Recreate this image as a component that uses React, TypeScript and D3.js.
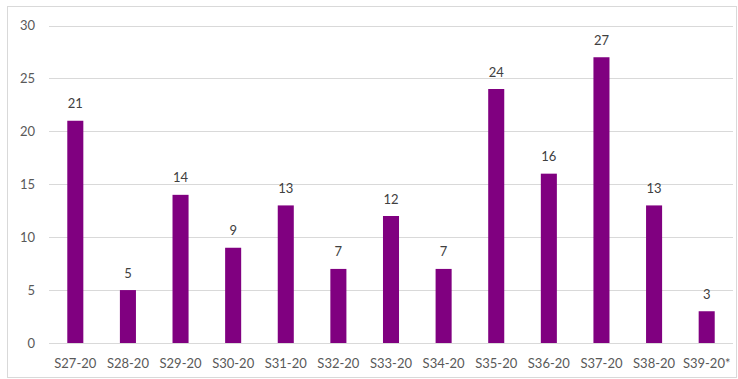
import React from "react";
import * as d3 from "d3";

const categories = ["S27-20","S28-20","S29-20","S30-20","S31-20","S32-20","S33-20","S34-20","S35-20","S36-20","S37-20","S38-20","S39-20*"];
const values = [21,5,14,9,13,7,12,7,24,16,27,13,3];
const yTicks = [0,5,10,15,20,25,30];

export default function App() {
  const W = 738, H = 379;
  const x = d3.scaleBand<string>().domain(categories).range([49, 733]).paddingInner(0.695).paddingOuter(0.3475);
  const y = d3.scaleLinear().domain([0, 30]).range([343, 25.5]);
  const font = "Lato, 'Open Sans', sans-serif";
  return (
    <svg width={W} height={H} style={{ position: "absolute", left: 0, top: 0 }}>
      <rect x={0} y={0} width={W} height={H} fill="#fff" />
      <rect x={7.5} y={6.5} width={729} height={371} fill="none" stroke="#d9d9d9" />
      {yTicks.map(t => (
        <g key={t}>
          <line x1={49} x2={733} y1={Math.round(y(t)) + 0.5} y2={Math.round(y(t)) + 0.5} stroke="#d9d9d9" />
          <text x={35} y={y(t)} dy="0.35em" textAnchor="end" fontFamily={font} fontSize={13} fill="#595959">{t}</text>
        </g>
      ))}
      {categories.map((c, i) => (
        <g key={c}>
          <rect x={x(c)!} y={y(values[i])} width={x.bandwidth()} height={y(0) - y(values[i])} fill="#800080" />
          <text x={x(c)! + x.bandwidth() / 2} y={y(values[i]) - 17} dy="0.35em" textAnchor="middle" fontFamily={font} fontSize={13} fill="#404040">{values[i]}</text>
          <text x={x(c)! + x.bandwidth() / 2} y={363} dy="0.35em" textAnchor="middle" fontFamily={font} fontSize={13} fill="#595959">{c}</text>
        </g>
      ))}
    </svg>
  );
}
